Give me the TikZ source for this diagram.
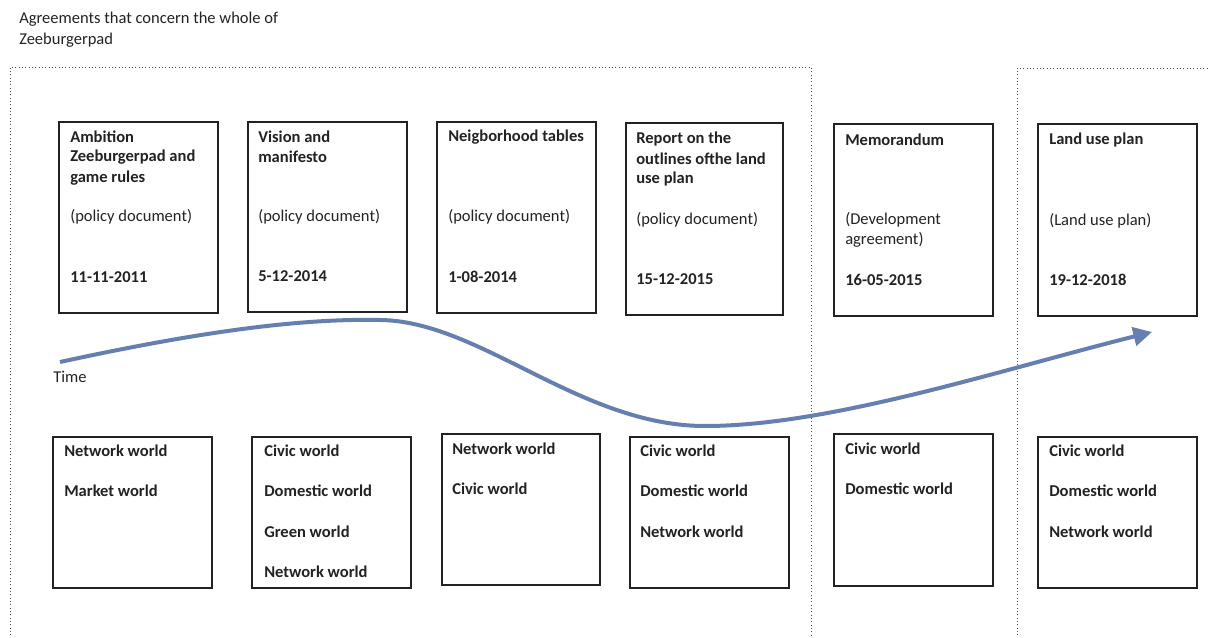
\documentclass[tikz,border=0pt]{standalone}
\usepackage{fontspec}
\setmainfont{Carlito}
\usetikzlibrary{arrows.meta,fit}
\definecolor{ink}{HTML}{222222}
\definecolor{timeblue}{HTML}{6580B0}
\tikzset{
  box/.style={draw=ink, line width=0.9pt, inner sep=0pt, rectangle},
  frame/.style={draw=ink!80, line width=0.5pt, dotted},
  lbl/.style={anchor=west, inner sep=0pt, text=ink, font=\fontsize{12.4pt}{14pt}\selectfont\bfseries},
  plain/.style={anchor=west, inner sep=0pt, text=ink, font=\fontsize{12.4pt}{14pt}\selectfont},
  timeline/.style={draw=timeblue, line width=3pt, -{Triangle[length=14pt,width=14pt]}}
}
\begin{document}
\begin{tikzpicture}[x=0.75pt,y=-0.75pt]
\useasboundingbox (0,0) rectangle (1210,638);
% title
\node[plain] (title1) at (19,19) {Agreements that concern the whole of};
\node[plain] (title2) at (19,40) {Zeeburgerpad};
% dotted frames
\coordinate (fl1) at (10,645);
\coordinate (fl2) at (10,67);
\coordinate (fl3) at (811,67);
\coordinate (fl4) at (811,645);
\draw[frame] (fl1) -- (fl2) -- (fl3) -- (fl4);
\coordinate (fr1) at (1017,645);
\coordinate (fr2) at (1017,68);
\coordinate (fr3) at (1215,68);
\draw[frame] (fr1) -- (fr2) -- (fr3);
% top boxes
\node[box, fit={(59,122) (218,313)}] (t1) {};
\node[box, fit={(248,122) (407,312)}] (t2) {};
\node[box, fit={(437,122) (596,313)}] (t3) {};
\node[box, fit={(626,123) (783,315)}] (t4) {};
\node[box, fit={(834,124) (993,316)}] (t5) {};
\node[box, fit={(1038,124) (1197,316)}] (t6) {};
% top texts
\node[lbl] (t1a) at (70,137) {Ambition};
\node[lbl] (t1b) at (70,157) {Zeeburgerpad and};
\node[lbl] (t1c) at (70,178) {game rules};
\node[plain] (t1d) at (70,217) {(policy document)};
\node[lbl] (t1e) at (70,277) {11-11-2011};
\node[lbl] (t2a) at (258,137) {Vision and};
\node[lbl] (t2b) at (258,157) {manifesto};
\node[plain] (t2d) at (258,217) {(policy document)};
\node[lbl] (t2e) at (258,276) {5-12-2014};
\node[lbl] (t3a) at (448,137) {Neigborhood tables};
\node[plain] (t3d) at (448,217) {(policy document)};
\node[lbl] (t3e) at (448,277) {1-08-2014};
\node[lbl] (t4a) at (636,139) {Report on the};
\node[lbl] (t4b) at (636,159) {outlines ofthe land};
\node[lbl] (t4c) at (636,179) {use plan};
\node[plain] (t4d) at (636,220) {(policy document)};
\node[lbl] (t4e) at (636,279) {15-12-2015};
\node[lbl] (t5a) at (845,140) {Memorandum};
\node[plain] (t5d) at (845,220) {(Development};
\node[plain] (t5f) at (845,240) {agreement)};
\node[lbl] (t5e) at (845,280) {16-05-2015};
\node[lbl] (t6a) at (1049,140) {Land use plan};
\node[plain] (t6d) at (1049,221) {(Land use plan)};
\node[lbl] (t6e) at (1049,280) {19-12-2018};
% time curve
\coordinate (c0) at (60,362);
\coordinate (c1) at (380,320);
\coordinate (c2) at (705,426);
\coordinate (c3) at (1152,332);
\draw[timeline] (c0) .. controls (180,336) and (290,318) .. (c1)
  .. controls (480,321) and (580,426) .. (c2)
  .. controls (830,426) and (1000,370) .. (c3);
\node[plain] (time) at (53,377) {Time};
% bottom boxes
\node[box, fit={(53,437) (212,588)}] (b1) {};
\node[box, fit={(252,437) (411,588)}] (b2) {};
\node[box, fit={(442,434) (600,585)}] (b3) {};
\node[box, fit={(630,437) (789,588)}] (b4) {};
\node[box, fit={(834,434) (993,586)}] (b5) {};
\node[box, fit={(1038,437) (1197,588)}] (b6) {};
% bottom texts
\node[lbl] (b1a) at (64,451) {Network world};
\node[lbl] (b1b) at (64,491) {Market world};
\node[lbl] (b2a) at (264,451) {Civic world};
\node[lbl] (b2b) at (264,491) {Domestic world};
\node[lbl] (b2c) at (264,532) {Green world};
\node[lbl] (b2d) at (264,572) {Network world};
\node[lbl] (b3a) at (452,449) {Network world};
\node[lbl] (b3b) at (452,489) {Civic world};
\node[lbl] (b4a) at (640,451) {Civic world};
\node[lbl] (b4b) at (640,491) {Domestic world};
\node[lbl] (b4c) at (640,532) {Network world};
\node[lbl] (b5a) at (845,449) {Civic world};
\node[lbl] (b5b) at (845,489) {Domestic world};
\node[lbl] (b6a) at (1049,451) {Civic world};
\node[lbl] (b6b) at (1049,491) {Domestic world};
\node[lbl] (b6c) at (1049,532) {Network world};
\end{tikzpicture}
\end{document}
